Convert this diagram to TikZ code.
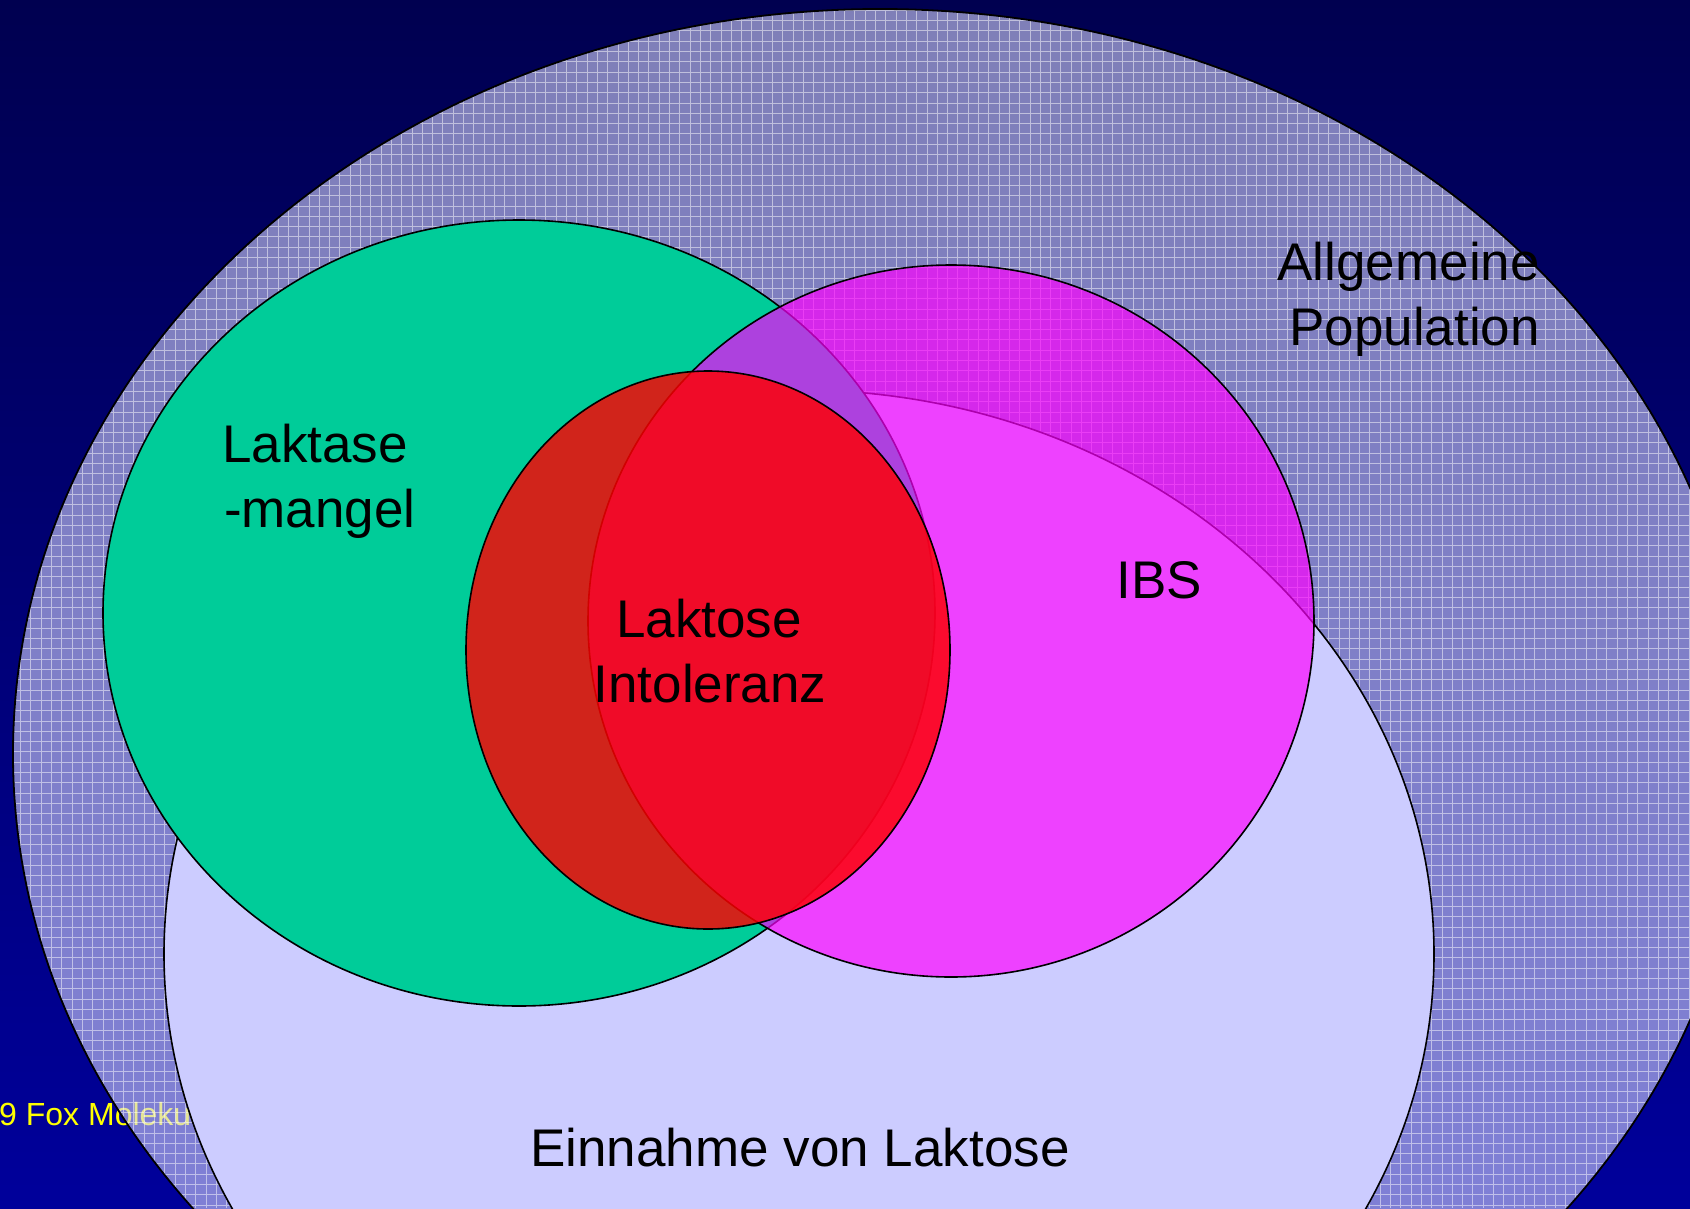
\documentclass[tikz,border=0pt]{standalone}
\usepackage{fontspec}
\setmainfont{Liberation Sans}
\definecolor{bgtop}{RGB}{0,0,80}
\definecolor{bgbot}{RGB}{0,0,155}
\definecolor{popfill}{RGB}{213,213,253}
\definecolor{lavfill}{RGB}{204,204,255}
\definecolor{greenfill}{RGB}{0,204,153}
\definecolor{ibsfill}{RGB}{255,0,255}
\definecolor{ltfill}{RGB}{255,0,0}
\definecolor{foxyellow}{RGB}{255,255,0}
\begin{document}
\begin{tikzpicture}[x=1pt,y=-1pt,
  lbl/.style={font=\fontsize{53}{65}\selectfont, text=black, inner sep=0pt},
  outl/.style={draw=black, line width=1.6pt}]
\useasboundingbox (0,0) rectangle (1690,1208);
\clip (0,0) rectangle (1690,1208);
% background
\shade[top color=bgtop, bottom color=bgbot] (0,0) rectangle (1690,1208);
% footer text (partly hidden)
\node[anchor=base west, text=foxyellow, font=\fontsize{32}{38}\selectfont, inner sep=0pt] (fox) at (-1,1125) {9 Fox Moleku};
% general population
\fill[popfill, fill opacity=0.6] (880,754) ellipse [x radius=867pt, y radius=745pt];
\begin{scope}
  \clip (880,754) ellipse [x radius=867pt, y radius=745pt];
  \draw[white, opacity=0.5, line width=0.9pt, step=10.3pt] (0,0) grid (1690,1208);
\end{scope}
\draw[black, line width=1.8pt] (880,754) ellipse [x radius=867pt, y radius=745pt];
% lactose intake
\draw[outl, fill=lavfill] (799,954) ellipse [x radius=635pt, y radius=564pt];
% lactase deficiency
\draw[outl, fill=greenfill] (519,613) ellipse [x radius=416pt, y radius=393pt];
% IBS
\draw[outl, fill=ibsfill, fill opacity=0.68] (951,621) ellipse [x radius=363pt, y radius=356pt];
% lactose intolerance
\draw[outl, fill=ltfill, fill opacity=0.82] (708,650) ellipse [x radius=242pt, y radius=279pt];
% labels
\node[lbl, anchor=base east] (allg) at (1540,280) {Allgemeine};
\node[lbl, anchor=base east] (popu) at (1540,345) {Population};
\node[lbl, anchor=base west] (lak1) at (222,462) {Laktase};
\node[lbl, anchor=base west] (lak2) at (224,527) {-mangel};
\node[lbl, anchor=base] (lint1) at (709,637) {Laktose};
\node[lbl, anchor=base] (lint2) at (710,702) {Intoleranz};
\node[lbl, anchor=base] (ibs) at (1159,598) {IBS};
\node[lbl, anchor=base] (einn) at (800,1166) {Einnahme von Laktose};
\end{tikzpicture}
\end{document}
